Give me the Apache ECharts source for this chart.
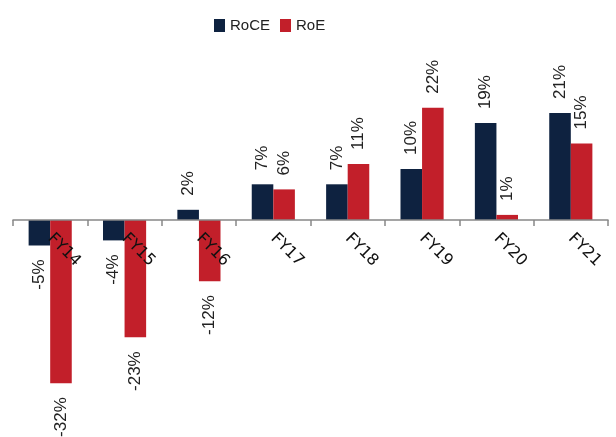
<!DOCTYPE html>
<html>
<head>
<meta charset="utf-8">
<script src="https://cdn.jsdelivr.net/npm/echarts@6/dist/echarts.min.js"></script>
<style>
  html, body { margin: 0; padding: 0; background: #fff; }
  #chart { width: 616px; height: 437px; }
</style>
</head>
<body>
<div id="chart"></div>
<script>
  // values, in %
  const years = ['FY14', 'FY15', 'FY16', 'FY17', 'FY18', 'FY19', 'FY20', 'FY21'];
  const roce = [-5, -4, 2, 7, 7, 10, 19, 21];
  const roe = [-32, -23, -12, 6, 11, 22, 1, 15];

  // put label above positive bars, below negative ones
  function withLabels(values) {
    return values.map(v => ({
      value: v,
      label: v < 0
        ? { position: 'bottom', align: 'right' }
        : { position: 'top', align: 'left' }
    }));
  }

  const labelStyle = {
    show: true,
    rotate: 90,
    verticalAlign: 'middle',
    distance: 14,
    fontFamily: 'Liberation Sans',
    fontSize: 17,
    color: '#222',
    formatter: p => p.value + '%'
  };

  const myChart = echarts.init(document.getElementById('chart'));

  const option = {
    animation: false,
    legend: {
      top: 13,
      left: 209,
      itemWidth: 11,
      itemHeight: 13,
      itemGap: 10,
      itemStyle: { borderWidth: 0 },
      icon: 'rect',
      textStyle: {
        fontFamily: 'Liberation Sans',
        fontSize: 15,
        color: '#222'
      },
      data: ['RoCE', 'RoE']
    },
    grid: {
      left: 13,
      right: 8,
      top: 67,
      bottom: 13,
      outerBoundsMode: 'none'
    },
    xAxis: {
      type: 'category',
      data: years,
      z: 10,
      // axis sits on the zero line (zero is 204px above the grid bottom)
      offset: -204,
      axisLine: { onZero: false, lineStyle: { color: '#888', width: 1.5 } },
      axisTick: { show: true, length: 6, lineStyle: { color: '#888', width: 1.5 } },
      axisLabel: {
        interval: 0,
        rotate: -45,
        margin: 16,
        fontFamily: 'DejaVu Sans',
        fontSize: 16,
        color: '#111'
      }
    },
    yAxis: {
      type: 'value',
      min: -40,
      max: 30,
      interval: 10,
      show: false,
      splitLine: { show: false }
    },
    series: [
      {
        name: 'RoCE',
        type: 'bar',
        barWidth: '29%',
        barGap: '0%',
        itemStyle: { color: '#0e2240' },
        label: labelStyle,
        data: withLabels(roce)
      },
      {
        name: 'RoE',
        type: 'bar',
        barWidth: '29%',
        barGap: '0%',
        itemStyle: { color: '#c21f2a' },
        label: labelStyle,
        data: withLabels(roe)
      }
    ]
  };

  myChart.setOption(option);
</script>
</body>
</html>
